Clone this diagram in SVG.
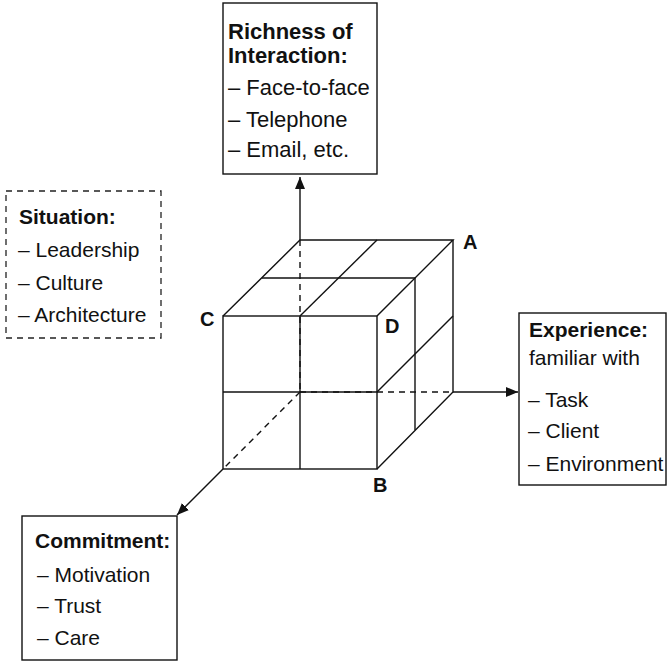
<svg xmlns="http://www.w3.org/2000/svg" width="667" height="662" viewBox="0 0 667 662">
<style>
.box{fill:#fff;stroke:#111;stroke-width:1.4}
.dbox{fill:#fff;stroke:#222;stroke-width:1.3;stroke-dasharray:6 5}
.t{font-family:"Liberation Sans",Arial,sans-serif;font-size:21px;fill:#111}
.b{font-weight:bold}
.big{font-size:22px}
.lbl{font-family:"Liberation Sans",Arial,sans-serif;font-size:20px;font-weight:bold;fill:#111}
.ln{stroke:#111;stroke-width:1.4;fill:none}
.dl{stroke:#111;stroke-width:1.4;fill:none;stroke-dasharray:6 5}
</style>
<defs>
<marker id="ah" markerUnits="userSpaceOnUse" markerWidth="13" markerHeight="11" refX="12" refY="5" orient="auto">
<path d="M0,0 L12,5 L0,10 Z" fill="#111"/>
</marker>
</defs>
<g id="connectors">
<line class="ln" x1="300" y1="240" x2="300" y2="177" marker-end="url(#ah)"/>
<line class="ln" x1="453" y1="392" x2="518" y2="392" marker-end="url(#ah)"/>
<line class="ln" x1="223" y1="469" x2="177" y2="515" marker-end="url(#ah)"/>
</g>
<g id="cube">
<line class="dl" x1="300" y1="240" x2="300" y2="392"/>
<line class="dl" x1="300" y1="392" x2="453" y2="392"/>
<line class="dl" x1="300" y1="392" x2="223" y2="469"/>
<rect class="ln" x="223" y="316" width="154" height="153"/>
<line class="ln" x1="300" y1="316" x2="300" y2="469"/>
<line class="ln" x1="223" y1="392" x2="377" y2="392"/>
<path class="ln" d="M223,316 L300,240 L453,240 L377,316"/>
<line class="ln" x1="262" y1="278" x2="415" y2="278"/>
<line class="ln" x1="300" y1="316" x2="377" y2="240"/>
<path class="ln" d="M453,240 L453,392 L377,469"/>
<line class="ln" x1="415" y1="278" x2="415" y2="430"/>
<line class="ln" x1="377" y1="392" x2="453" y2="316"/>
<text class="lbl" x="463" y="249">A</text>
<text class="lbl" x="200" y="326">C</text>
<text class="lbl" x="385" y="333">D</text>
<text class="lbl" x="373" y="492">B</text>
</g>
<g id="richness">
<rect class="box" x="223" y="3" width="154" height="171"/>
<text class="t big b" x="228" y="39">Richness of</text>
<text class="t big b" x="228" y="63">Interaction:</text>
<text class="t big" x="228" y="95">– Face-to-face</text>
<text class="t big" x="228" y="127">– Telephone</text>
<text class="t big" x="228" y="157">– Email, etc.</text>
</g>
<g id="situation">
<rect class="dbox" x="6" y="191" width="155" height="147"/>
<text class="t b" x="19" y="224">Situation:</text>
<text class="t" x="18" y="257">– Leadership</text>
<text class="t" x="18" y="290">– Culture</text>
<text class="t" x="18" y="322">– Architecture</text>
</g>
<g id="experience">
<rect class="box" x="519" y="313" width="147" height="172"/>
<text class="t b" x="529" y="337">Experience:</text>
<text class="t" x="529" y="365">familiar with</text>
<text class="t" x="528" y="407">– Task</text>
<text class="t" x="528" y="438">– Client</text>
<text class="t" x="528" y="471">– Environment</text>
</g>
<g id="commitment">
<rect class="box" x="22" y="516" width="155" height="144"/>
<text class="t b" x="35" y="548">Commitment:</text>
<text class="t" x="37" y="582">– Motivation</text>
<text class="t" x="37" y="613">– Trust</text>
<text class="t" x="37" y="645">– Care</text>
</g>
</svg>
